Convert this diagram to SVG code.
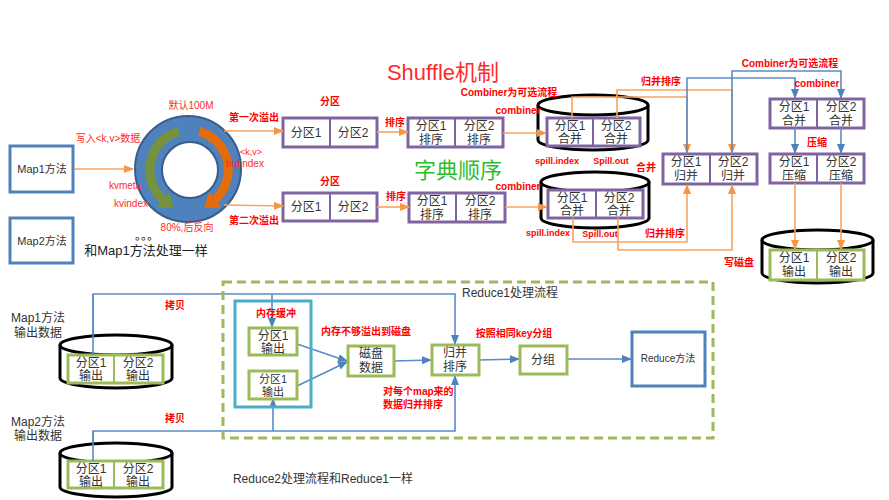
<svg xmlns="http://www.w3.org/2000/svg" width="889" height="500" viewBox="0 0 889 500">
<defs>
<style>
text{font-family:"Liberation Sans","Noto Sans CJK SC",sans-serif}
.t{font-size:12px;fill:#333;text-anchor:middle}
.tb{font-size:13px;fill:#222;text-anchor:middle}
.r{font-size:10px;fill:#ff0000;font-weight:bold;text-anchor:middle}
.rn{font-size:10px;fill:#ff2a2a;text-anchor:middle}
.pb{fill:#fff;stroke:#8064a2;stroke-width:3}
.gb{fill:#fff;stroke:#9bbb59;stroke-width:3}
.bb{fill:#fff;stroke:#4f81bd;stroke-width:3}
.cyl{fill:#fff;stroke:#000;stroke-width:3}
.o{fill:none;stroke:#f9a35e;stroke-width:1.6}
.b{fill:none;stroke:#5b8bc9;stroke-width:1.6}
</style>
<marker id="ao" markerUnits="userSpaceOnUse" markerWidth="10" markerHeight="10" refX="9" refY="5" orient="auto"><path d="M0,1 L10,5 L0,9 z" fill="#f79646"/></marker>
<marker id="ab" markerUnits="userSpaceOnUse" markerWidth="10" markerHeight="10" refX="9" refY="5" orient="auto"><path d="M0,1 L10,5 L0,9 z" fill="#4f81bd"/></marker>
<marker id="ag" markerUnits="userSpaceOnUse" markerWidth="16" markerHeight="20" refX="4" refY="10" orient="auto"><path d="M0,0 L14,10 L0,20 z" fill="#76923c"/></marker>
<marker id="ar" markerUnits="userSpaceOnUse" markerWidth="16" markerHeight="20" refX="4" refY="10" orient="auto"><path d="M0,0 L14,10 L0,20 z" fill="#e46c0a"/></marker>
</defs>
<rect width="889" height="500" fill="#fff"/>

<text x="443" y="80" style="font-size:22px;fill:#ff2a2a;text-anchor:middle">Shuffle机制</text>
<text x="458" y="178" style="font-size:22px;fill:#2ebd2e;text-anchor:middle">字典顺序</text>

<g id="map1"><rect x="10" y="146" width="63" height="46" class="bb"/><text x="42" y="173" class="t" style="font-size:11px">Map1方法</text></g>
<g id="map2"><rect x="10" y="218" width="63" height="45" class="bb"/><text x="42" y="245" class="t" style="font-size:11px">Map2方法</text></g>

<g id="ring">
<circle cx="188" cy="169" r="53" fill="#4f81bd" stroke="#385d8a" stroke-width="2"/>
<circle cx="190" cy="170" r="28" fill="#fff" stroke="#385d8a" stroke-width="2"/>
<path d="M178.6,131.4 A40,40 0 0 0 166,202" fill="none" stroke="#76923c" stroke-width="9" marker-end="url(#ag)"/>
<path d="M199.4,131.4 A40,40 0 0 1 212,202" fill="none" stroke="#e46c0a" stroke-width="9" marker-end="url(#ar)"/>
</g>
<text x="191" y="109" class="rn">默认100M</text>
<text x="108" y="142" class="rn">写入&lt;k,v&gt;数据</text>
<text x="125" y="189" class="rn">kvmeta</text>
<text x="131" y="207" class="rn">kvindex</text>
<text x="251" y="155" class="rn" style="font-size:9px">&lt;k,v&gt;</text>
<text x="245" y="167" class="rn">bufindex</text>
<text x="187" y="231" class="rn">80%,后反向</text>
<text x="147" y="240" class="tb" style="font-size:12px">。。。</text>
<text x="146" y="255" class="tb">和Map1方法处理一样</text>

<g id="p1"><rect x="283" y="118" width="94" height="29" class="pb"/><line x1="330" y1="118" x2="330" y2="147" stroke="#8064a2" stroke-width="2"/><text x="306" y="137" class="t">分区1</text><text x="353" y="137" class="t">分区2</text></g>
<g id="p2"><rect x="283" y="193" width="94" height="28" class="pb"/><line x1="330" y1="193" x2="330" y2="221" stroke="#8064a2" stroke-width="2"/><text x="306" y="211" class="t">分区1</text><text x="353" y="211" class="t">分区2</text></g>
<g id="s1"><rect x="408" y="118" width="95" height="29" class="pb"/><line x1="455" y1="118" x2="455" y2="147" stroke="#8064a2" stroke-width="2"/><text x="431" y="130" class="t">分区1</text><text x="431" y="144" class="t">排序</text><text x="479" y="130" class="t">分区2</text><text x="479" y="144" class="t">排序</text></g>
<g id="s2"><rect x="409" y="193" width="96" height="29" class="pb"/><line x1="456" y1="193" x2="456" y2="222" stroke="#8064a2" stroke-width="2"/><text x="432" y="205" class="t">分区1</text><text x="432" y="219" class="t">排序</text><text x="480" y="205" class="t">分区2</text><text x="480" y="219" class="t">排序</text></g>

<g id="cyl1"><path d="M538,105 L538,140 A55,10 0 0 0 648,140 L648,105" class="cyl"/><ellipse cx="593" cy="105" rx="55" ry="10" class="cyl"/>
<rect x="547" y="118" width="93" height="28" class="pb"/><line x1="593" y1="118" x2="593" y2="146" stroke="#8064a2" stroke-width="2"/><text x="570" y="130" class="t">分区1</text><text x="570" y="143" class="t">合并</text><text x="616" y="130" class="t">分区2</text><text x="616" y="143" class="t">合并</text></g>
<g id="cyl2"><path d="M541,182 L541,218 A54,10 0 0 0 649,218 L649,182" class="cyl"/><ellipse cx="595" cy="182" rx="54" ry="10" class="cyl"/>
<rect x="548" y="190" width="95" height="28" class="pb"/><line x1="596" y1="190" x2="596" y2="218" stroke="#8064a2" stroke-width="2"/><text x="572" y="202" class="t">分区1</text><text x="572" y="215" class="t">合并</text><text x="619" y="202" class="t">分区2</text><text x="619" y="215" class="t">合并</text></g>

<g id="gb"><rect x="663" y="154" width="94" height="30" class="pb"/><line x1="710" y1="154" x2="710" y2="184" stroke="#8064a2" stroke-width="2"/><text x="686" y="166" class="t">分区1</text><text x="686" y="180" class="t">归并</text><text x="733" y="166" class="t">分区2</text><text x="733" y="180" class="t">归并</text></g>
<g id="hb"><rect x="770" y="99" width="94" height="29" class="pb"/><line x1="817" y1="99" x2="817" y2="128" stroke="#8064a2" stroke-width="2"/><text x="794" y="111" class="t">分区1</text><text x="794" y="125" class="t">合并</text><text x="841" y="111" class="t">分区2</text><text x="841" y="125" class="t">合并</text></g>
<g id="ys"><rect x="770" y="154" width="94" height="29" class="pb"/><line x1="817" y1="154" x2="817" y2="183" stroke="#8064a2" stroke-width="2"/><text x="794" y="166" class="t">分区1</text><text x="794" y="180" class="t">压缩</text><text x="841" y="166" class="t">分区2</text><text x="841" y="180" class="t">压缩</text></g>
<g id="cyl3"><path d="M762,240 L762,273 A55.5,10 0 0 0 873,273 L873,240" class="cyl"/><ellipse cx="817.5" cy="240" rx="55.5" ry="10" class="cyl"/>
<rect x="770" y="250" width="94" height="30" class="gb"/><line x1="817" y1="250" x2="817" y2="280" stroke="#9bbb59" stroke-width="2"/><text x="794" y="262" class="t">分区1</text><text x="794" y="276" class="t">输出</text><text x="841" y="262" class="t">分区2</text><text x="841" y="276" class="t">输出</text></g>

<g id="edges">
<line x1="74" y1="169" x2="133" y2="169" class="o" marker-end="url(#ao)"/>
<line x1="224" y1="131" x2="283" y2="131" class="o" marker-end="url(#ao)"/>
<line x1="224" y1="205" x2="283" y2="206" class="o" marker-end="url(#ao)"/>
<line x1="377" y1="132" x2="408" y2="132" class="o" marker-end="url(#ao)"/>
<line x1="377" y1="207" x2="409" y2="207" class="o" marker-end="url(#ao)"/>
<line x1="503" y1="133" x2="546" y2="133" class="o" marker-end="url(#ao)"/>
<line x1="505" y1="207" x2="547" y2="207" class="o" marker-end="url(#ao)"/>
<polyline points="572,118 572,97 687,97 687,153" class="o" marker-end="url(#ao)"/>
<polyline points="617,118 617,90 732,90 732,153" class="o" marker-end="url(#ao)"/>
<polyline points="573,218 573,242 687,242 687,185" class="o" marker-end="url(#ao)"/>
<polyline points="618,218 618,250 732,250 732,185" class="o" marker-end="url(#ao)"/>
<polyline points="687,154 687,78 795,78 795,98" class="b" marker-end="url(#ab)"/>
<polyline points="732,154 732,71 841,71 841,98" class="b" marker-end="url(#ab)"/>
<line x1="795" y1="128" x2="795" y2="153" class="b" marker-end="url(#ab)"/>
<line x1="841" y1="128" x2="841" y2="153" class="b" marker-end="url(#ab)"/>
<line x1="795" y1="183" x2="795" y2="249" class="o" marker-end="url(#ao)"/>
<line x1="841" y1="183" x2="841" y2="249" class="o" marker-end="url(#ao)"/>

<polyline points="93,355 93,294 455,294 455,344" class="b" marker-end="url(#ab)"/>
<line x1="272" y1="294" x2="272" y2="327" class="b" marker-end="url(#ab)"/>
<polyline points="93,461 93,431 455,431 455,376" class="b" marker-end="url(#ab)"/>
<line x1="273" y1="431" x2="273" y2="399" class="b" marker-end="url(#ab)"/>
<line x1="297" y1="344" x2="347" y2="361" class="b" marker-end="url(#ab)"/>
<line x1="297" y1="386" x2="347" y2="362" class="b" marker-end="url(#ab)"/>
<line x1="394" y1="361" x2="431" y2="360" class="b" marker-end="url(#ab)"/>
<line x1="479" y1="360" x2="519" y2="359" class="b" marker-end="url(#ab)"/>
<line x1="567" y1="359" x2="631" y2="359" class="b" marker-end="url(#ab)"/>
</g>

<text x="254" y="121" class="r">第一次溢出</text>
<text x="254" y="224" class="r">第二次溢出</text>
<text x="330" y="105" class="r">分区</text>
<text x="330" y="185" class="r">分区</text>
<text x="395" y="126" class="r">排序</text>
<text x="396" y="200" class="r">排序</text>
<text x="509" y="96" class="r">Combiner为可选流程</text>
<text x="518" y="114" class="r">combiner</text>
<text x="518" y="190" class="r">combiner</text>
<text x="557" y="164" class="r" style="font-size:9px">spill.index</text>
<text x="611" y="164" class="r" style="font-size:9px">Spill.out</text>
<text x="646" y="171" class="r">合并</text>
<text x="548" y="236" class="r" style="font-size:9px">spill.index</text>
<text x="600" y="237" class="r" style="font-size:9px">Spill.out</text>
<text x="661" y="85" class="r">归并排序</text>
<text x="665" y="237" class="r">归并排序</text>
<text x="739" y="266" class="r">写磁盘</text>
<text x="817" y="146" class="r">压缩</text>
<text x="790" y="67" class="r">Combiner为可选流程</text>
<text x="817" y="87" class="r">combiner</text>

<rect x="223" y="282" width="490" height="156" fill="none" stroke="#9bbb59" stroke-width="3" stroke-dasharray="9,5"/>
<text x="510" y="297" class="t">Reduce1处理流程</text>
<text x="323" y="483" class="t">Reduce2处理流程和Reduce1一样</text>

<text x="38" y="322" class="t">Map1方法</text>
<text x="38" y="337" class="t">输出数据</text>
<text x="38" y="426" class="t">Map2方法</text>
<text x="38" y="440" class="t">输出数据</text>
<g id="cylA"><path d="M60,345 L60,378 A56,10 0 0 0 172,378 L172,345" class="cyl"/><ellipse cx="116" cy="345" rx="56" ry="10" class="cyl"/>
<rect x="68" y="355" width="95" height="28" class="gb"/><line x1="114" y1="355" x2="114" y2="383" stroke="#9bbb59" stroke-width="2"/><text x="91" y="367" class="t">分区1</text><text x="91" y="380" class="t">输出</text><text x="138" y="367" class="t">分区2</text><text x="138" y="380" class="t">输出</text></g>
<g id="cylB"><path d="M60,453 L60,487 A56,10 0 0 0 172,487 L172,453" class="cyl"/><ellipse cx="116" cy="453" rx="56" ry="10" class="cyl"/>
<rect x="68" y="461" width="95" height="27" class="gb"/><line x1="114" y1="461" x2="114" y2="488" stroke="#9bbb59" stroke-width="2"/><text x="91" y="473" class="t">分区1</text><text x="91" y="486" class="t">输出</text><text x="138" y="473" class="t">分区2</text><text x="138" y="486" class="t">输出</text></g>
<line x1="93" y1="355" x2="93" y2="294" class="b"/>
<line x1="93" y1="461" x2="93" y2="431" class="b"/>

<g id="buf"><rect x="235" y="301" width="76" height="106" fill="none" stroke="#4bacc6" stroke-width="3"/></g>
<g id="o1"><rect x="249" y="328" width="48" height="27" class="gb"/><text x="273" y="340" class="t">分区1</text><text x="273" y="353" class="t">输出</text></g>
<g id="o2"><rect x="249" y="371" width="48" height="28" class="gb"/><text x="273" y="383" class="t" style="font-size:11px">分区1</text><text x="273" y="396" class="t" style="font-size:11px">输出</text></g>
<g id="disk"><rect x="348" y="346" width="46" height="30" class="gb"/><text x="371" y="358" class="t">磁盘</text><text x="371" y="372" class="t">数据</text></g>
<g id="merge"><rect x="432" y="345" width="47" height="30" class="gb"/><text x="455" y="357" class="t">归并</text><text x="455" y="371" class="t">排序</text></g>
<g id="group"><rect x="520" y="346" width="47" height="28" class="gb"/><text x="543" y="364" class="t">分组</text></g>
<g id="reduce"><rect x="632" y="332" width="73" height="54" class="bb"/><text x="668" y="362" class="t" style="font-size:10px">Reduce方法</text></g>

<text x="175" y="309" class="r">拷贝</text>
<text x="175" y="422" class="r">拷贝</text>
<text x="276" y="317" class="r">内存缓冲</text>
<text x="366" y="335" class="r">内存不够溢出到磁盘</text>
<text x="383" y="395" class="r" style="text-anchor:start">对每个map来的</text>
<text x="383" y="408" class="r" style="text-anchor:start">数据归并排序</text>
<text x="514" y="337" class="r">按照相同key分组</text>
</svg>
